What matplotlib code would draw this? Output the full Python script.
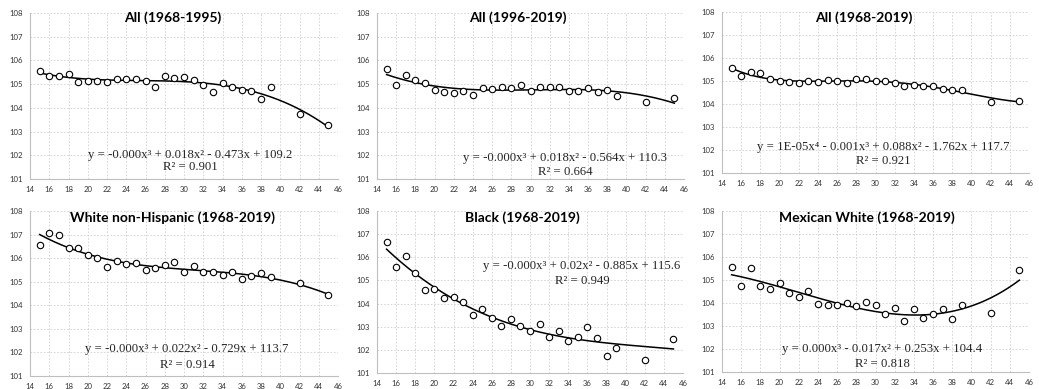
import numpy as np
import matplotlib.pyplot as plt

W, H = 1039, 389

ages = [15, 16, 17, 18, 19, 20, 21, 22, 23, 24, 25, 26, 27, 28, 29, 30,
        31, 32, 33, 34, 35, 36, 37, 38, 39, 42, 45]

all_6895 = [105.55, 105.33, 105.35, 105.43, 105.10, 105.13, 105.15, 105.07, 105.22,
            105.23, 105.22, 105.12, 104.88, 105.33, 105.27, 105.30, 105.17, 104.97,
            104.68, 105.03, 104.88, 104.77, 104.70, 104.38, 104.87, 103.72, 103.27]
all_9619 = [105.62, 104.95, 105.40, 105.18, 105.05, 104.77, 104.66, 104.64, 104.73,
            104.55, 104.85, 104.80, 104.90, 104.85, 104.95, 104.71, 104.88, 104.87,
            104.87, 104.70, 104.70, 104.82, 104.67, 104.75, 104.50, 104.25, 104.43]
all_6819 = [105.57, 105.20, 105.38, 105.35, 105.08, 105.00, 104.97, 104.90, 105.02,
            104.95, 105.05, 104.98, 104.90, 105.08, 105.10, 104.98, 105.02, 104.92,
            104.80, 104.82, 104.77, 104.80, 104.66, 104.63, 104.62, 104.10, 104.15]
white_nh = [106.55, 107.08, 106.97, 106.45, 106.42, 106.12, 106.02, 105.62, 105.87,
            105.75, 105.80, 105.50, 105.60, 105.72, 105.83, 105.42, 105.68, 105.42,
            105.42, 105.28, 105.40, 105.13, 105.25, 105.35, 105.18, 104.93, 104.42]
black = [106.65, 105.60, 106.05, 105.30, 104.60, 104.65, 104.25, 104.28, 104.08,
         103.52, 103.75, 103.37, 103.05, 103.32, 103.03, 102.83, 103.10, 102.55,
         102.82, 102.37, 102.55, 102.97, 102.50, 101.72, 102.07, 101.58, 102.48]
mexican_white = [105.55, 104.75, 105.50, 104.72, 104.60, 104.85, 104.42, 104.27, 104.53,
                 103.97, 103.92, 103.92, 103.98, 103.88, 104.03, 103.92, 103.50, 103.77,
                 103.20, 103.73, 103.35, 103.52, 103.73, 103.30, 103.90, 103.55, 105.42]

titles = ['All (1968-1995)', 'All (1996-2019)', 'All (1968-2019)',
          'White non-Hispanic (1968-2019)', 'Black (1968-2019)', 'Mexican White (1968-2019)']
series = [all_6895, all_9619, all_6819, white_nh, black, mexican_white]
degrees = [3, 3, 4, 3, 3, 3]
equations = ['y = -0.000x³ + 0.018x² - 0.473x + 109.2',
             'y = -0.000x³ + 0.018x² - 0.564x + 110.3',
             'y = 1E-05x⁴ - 0.001x³ + 0.088x² - 1.762x + 117.7',
             'y = -0.000x³ + 0.022x² - 0.729x + 113.7',
             'y = -0.000x³ + 0.02x² - 0.885x + 115.6',
             'y = 0.000x³ - 0.017x² + 0.253x + 104.4']
r2 = ['R² = 0.901', 'R² = 0.664', 'R² = 0.921', 'R² = 0.914', 'R² = 0.949', 'R² = 0.818']

# layout in pixels: plot box (left, top, right, bottom), title centre, equation centre
boxes = [(30, 13, 338, 179), (377, 13, 684, 179), (722, 12, 1029, 173),
         (30, 211, 338, 376), (377, 211, 683, 373), (722, 211, 1029, 372)]
title_xy = [(173, 18), (518, 18), (864, 18), (173, 218), (522, 218), (867, 218)]
eq_xy = [(190, 155), (565, 158), (883, 147), (187, 349), (582, 266), (882, 349)]
r2_xy = [(190, 167), (565, 172), (883, 161), (187, 365), (582, 281), (882, 364)]

fig = plt.figure(figsize=(W / 100, H / 100), dpi=100)

for i in range(6):
    l, t, r, b = boxes[i]
    ax = fig.add_axes([l / W, 1 - b / H, (r - l) / W, (b - t) / H])
    x = np.array(ages)
    y = np.array(series[i])
    ax.plot(x, y, 'o', mfc='white', mec='black', ms=4.6, mew=0.8, zorder=3)
    # polynomial trendline over the data range
    coef = np.polyfit(x, y, degrees[i])
    xs = np.linspace(15, 45, 200)
    ax.plot(xs, np.polyval(coef, xs), color='black', lw=1.1, zorder=2)

    ax.set_xlim(14, 46)
    ax.set_ylim(101, 108)
    ax.set_xticks(range(14, 47, 2))
    ax.set_yticks(range(101, 109))
    ax.grid(True, color='#d0d0d0', ls=(0, (2, 2)), lw=0.6)
    ax.set_axisbelow(True)
    ax.tick_params(length=0, labelsize=5.6, colors='#333333', pad=5)
    for lab in ax.get_xticklabels() + ax.get_yticklabels():
        lab.set_family('Lato')
    for s in ['top', 'right']:
        ax.spines[s].set_visible(False)
    for s in ['left', 'bottom']:
        ax.spines[s].set_color('#bfbfbf')
        ax.spines[s].set_linewidth(0.8)

    tx, ty = title_xy[i]
    fig.text(tx / W, 1 - ty / H, titles[i], ha='center', va='center',
             family='Lato', weight='bold', fontsize=10)
    ex, ey = eq_xy[i]
    fig.text(ex / W, 1 - ey / H, equations[i], ha='center', va='center',
             family='Liberation Serif', fontsize=9.2, color='#262626')
    rx, ry = r2_xy[i]
    fig.text(rx / W, 1 - ry / H, r2[i], ha='center', va='center',
             family='Liberation Serif', fontsize=9.2, color='#262626')

fig.savefig('out.png', dpi=100)
